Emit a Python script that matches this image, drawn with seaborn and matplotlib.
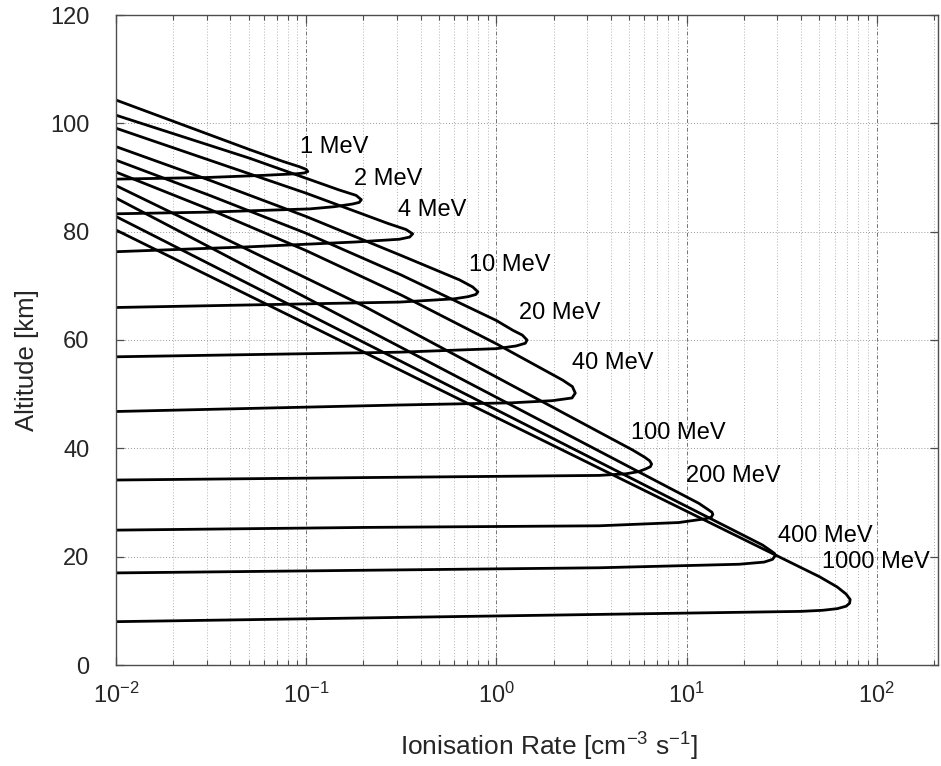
import numpy as np
import pandas as pd
import matplotlib
matplotlib.use("Agg")
import matplotlib.pyplot as plt
from matplotlib.ticker import LogLocator, FixedLocator, NullFormatter, LogFormatterSciNotation
import seaborn as sns

# Ionisation profiles of monoenergetic protons: rate [cm^-3 s^-1] vs altitude [km]
energies = [1, 2, 4, 10, 20, 40, 100, 200, 400, 1000]

rate_1 = [0.01, 0.05, 0.075, 0.092, 0.1, 0.102, 0.098, 0.09, 0.06, 0.03, 0.01]
alt_1 = [104.3, 95.2, 93.0, 92.0, 91.5, 91.1, 90.85, 90.7, 90.4, 90.0, 89.7]

rate_2 = [0.01, 0.05, 0.149, 0.183, 0.195, 0.19, 0.175, 0.14, 0.104, 0.03, 0.01]
alt_2 = [101.5, 93.6, 87.7, 86.7, 85.9, 85.4, 85.1, 84.6, 84.2, 83.6, 83.3]

rate_4 = [0.01, 0.1, 0.27, 0.335, 0.363, 0.35, 0.309, 0.183, 0.05, 0.01]
alt_4 = [99.1, 87.1, 81.5, 80.4, 79.6, 79.0, 78.6, 78.1, 77.2, 76.3]

rate_10 = [0.01, 0.0316, 0.1, 0.316, 0.64, 0.75, 0.80, 0.78, 0.71, 0.6, 0.31, 0.01]
alt_10 = [95.7, 89.4, 82.8, 75.6, 71.1, 69.8, 68.9, 68.4, 68.0, 67.6, 67.0, 66.0]

rate_20 = [0.01, 0.0316, 0.1, 0.316, 1.0, 1.22, 1.37, 1.45, 1.42, 1.27, 1.0, 0.31, 0.01]
alt_20 = [93.2, 86.6, 79.7, 72.0, 63.6, 61.8, 60.9, 60.0, 59.4, 58.9, 58.4, 57.75, 56.9]

rate_40 = [0.01, 0.0316, 0.1, 0.316, 1.0, 2.23, 2.51, 2.6, 2.5, 1.97, 1.2, 0.31, 0.01]
alt_40 = [91.0, 84.0, 76.5, 68.3, 59.3, 52.6, 51.4, 50.2, 49.3, 48.8, 48.4, 48.0, 46.8]

rate_100 = [0.01, 0.2, 5.2, 6.0, 6.4, 6.55, 6.45, 6.1, 5.6, 4.8, 3.47, 0.2, 0.01]
alt_100 = [88.5, 66.3, 39.7, 38.4, 37.7, 37.1, 36.6, 36.2, 35.7, 35.3, 35.0, 34.6, 34.15]

rate_200 = [0.01, 11.6, 13.1, 13.6, 13.75, 13.5, 12.6, 11.2, 9.1, 3.47, 0.205, 0.01]
alt_200 = [86.2, 29.85, 28.6, 28.2, 27.8, 27.3, 27.0, 26.75, 26.3, 25.7, 25.4, 24.9]

rate_400 = [0.01, 25.1, 27.7, 29.0, 29.3, 28.3, 25.6, 18.9, 3.47, 0.01]
alt_400 = [82.8, 22.15, 21.1, 20.6, 20.2, 19.5, 19.0, 18.6, 17.95, 17.0]

rate_1000 = [0.01, 50.0, 62.0, 69.0, 72.5, 72.0, 69.0, 62.0, 52.0, 40.0, 0.01]
alt_1000 = [80.3, 16.3, 14.4, 13.1, 12.1, 11.4, 10.85, 10.4, 10.1, 9.9, 8.0]

profiles = {
    1: (rate_1, alt_1), 2: (rate_2, alt_2), 4: (rate_4, alt_4),
    10: (rate_10, alt_10), 20: (rate_20, alt_20), 40: (rate_40, alt_40),
    100: (rate_100, alt_100), 200: (rate_200, alt_200),
    400: (rate_400, alt_400), 1000: (rate_1000, alt_1000),
}

frames = []
for e in energies:
    r, a = profiles[e]
    frames.append(pd.DataFrame({"energy": e, "order": np.arange(len(r)),
                                "rate": r, "altitude": a}))
df = pd.concat(frames, ignore_index=True)

sns.set_style("ticks")
plt.rcParams["font.family"] = ["Liberation Sans", "DejaVu Sans"]
plt.rcParams["mathtext.fontset"] = "custom"
plt.rcParams["mathtext.rm"] = "Liberation Sans"
plt.rcParams["mathtext.it"] = "Liberation Sans"

fig = plt.figure(figsize=(9.41, 7.66), dpi=100)
ax = fig.add_axes([116 / 941, 1 - 665 / 766, (938 - 116) / 941, (665 - 15) / 766])

for e in energies:
    sub = df[df["energy"] == e]
    sns.lineplot(data=sub, x="rate", y="altitude", sort=False, estimator=None,
                 color="black", linewidth=2.0, ax=ax, legend=False)

ax.set_xscale("log")
ax.set_xlim(0.01, 210)
ax.set_ylim(0, 120)
ax.yaxis.set_major_locator(FixedLocator([0, 20, 40, 60, 80, 100, 120]))
ax.xaxis.set_major_locator(LogLocator(base=10, numticks=10))
ax.xaxis.set_minor_locator(LogLocator(base=10, subs=np.arange(2, 10), numticks=20))
ax.xaxis.set_major_formatter(LogFormatterSciNotation())
ax.xaxis.set_minor_formatter(NullFormatter())

ax.grid(which="major", axis="x", color="0.45", linestyle=(0, (4, 2, 1, 2)), linewidth=0.7)
ax.grid(which="minor", axis="x", color="0.7", linestyle=(0, (1, 2)), linewidth=0.7)
ax.grid(which="major", axis="y", color="0.6", linestyle=(0, (1, 2)), linewidth=0.7)

ax.tick_params(which="both", direction="in", top=True, right=True, color="0.3")
ax.tick_params(which="major", length=6, width=0.9, labelsize=17)
ax.tick_params(axis="y", which="major", pad=19)
ax.tick_params(axis="x", which="major", pad=13)
ax.tick_params(which="minor", length=3.5, width=0.8)
for s in ax.spines.values():
    s.set_color("0.3")
    s.set_linewidth(1.0)

ax.set_xlabel("Ionisation Rate [cm$^{-3}$ s$^{-1}$]", fontsize=19)
ax.set_ylabel("Altitude [km]", fontsize=18.5)
ax.xaxis.set_label_coords(0.527, -0.102)
ax.yaxis.set_label_coords(-0.094, 0.469)

# curve annotations
label_texts = ["1 MeV", "2 MeV", "4 MeV", "10 MeV", "20 MeV", "40 MeV",
               "100 MeV", "200 MeV", "400 MeV", "1000 MeV"]
label_pos = [(0.093, 95.6), (0.179, 89.7), (0.303, 84.0), (0.72, 73.8), (1.31, 64.9),
             (2.51, 55.8), (5.09, 42.8), (9.98, 34.9), (30.1, 23.8), (51.8, 19.1)]
for txt, (lx, ly) in zip(label_texts, label_pos):
    ax.text(lx, ly, txt, fontsize=17, ha="left", va="center", color="black")

fig.savefig("out.png", dpi=100)
